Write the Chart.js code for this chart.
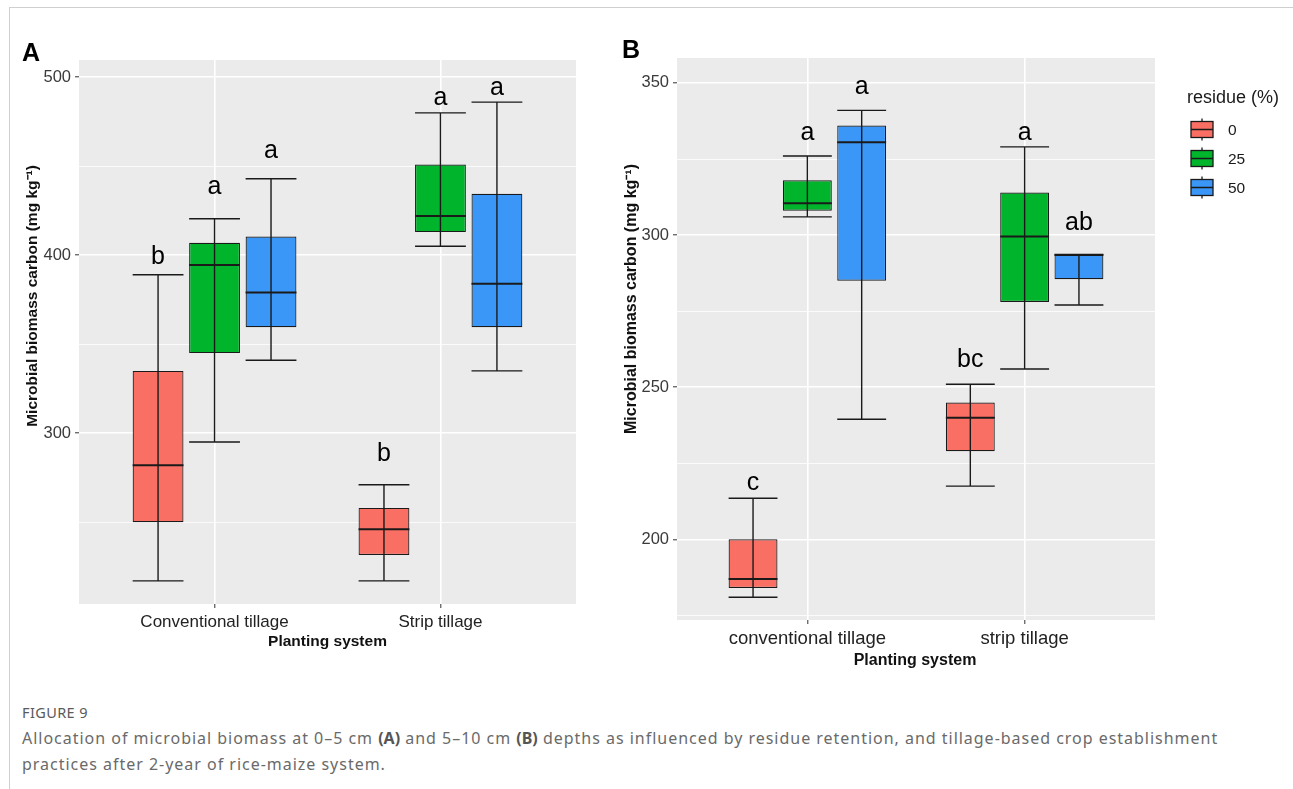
<!DOCTYPE html>
<html>
<head>
<meta charset="utf-8">
<script src="https://cdn.jsdelivr.net/npm/chart.js@4.4.0/dist/chart.umd.min.js"></script>
<style>
  body { margin: 0; background: #fff; width: 1293px; height: 789px; position: relative; overflow: hidden; font-family: "Liberation Sans", Arial, sans-serif; }
  #frame { position: absolute; left: 9px; top: 7px; right: 0; bottom: 0; border-left: 1px solid #cfcfcf; border-top: 1px solid #cfcfcf; }
  #cA { position: absolute; left: 0; top: 0; }
  #cB { position: absolute; left: 610px; top: 0; }
  .panel { position: absolute; font-weight: bold; font-size: 25px; color: #000; line-height: 1; }
  #fig { position: absolute; left: 22px; top: 702px; font-family: "Noto Sans", sans-serif; font-size: 14.5px; letter-spacing: 0.4px; color: #5a5a5a; }
  #cap { position: absolute; left: 22px; top: 725px; width: 1265px; white-space: nowrap; font-family: "Noto Sans", sans-serif; font-size: 16px; letter-spacing: 0.98px; line-height: 26px; color: #6a6a6a; }
  #cap b { color: #555; letter-spacing: 0; }
</style>
</head>
<body>
<div id="frame"></div>
<canvas id="cA" width="610" height="690"></canvas>
<canvas id="cB" width="683" height="690"></canvas>
<div class="panel" style="left:22px;top:40px">A</div>
<div class="panel" style="left:622px;top:37px">B</div>
<div id="fig">FIGURE 9</div>
<div id="cap">Allocation of microbial biomass at 0–5 cm <b>(A)</b> and 5–10 cm <b>(B)</b> depths as influenced by residue retention, and tillage-based crop establishment<br>practices after 2-year of rice-maize system.</div>

<script>
// Data
const categoriesA = ['Conventional tillage', 'Strip tillage'];
const categoriesB = ['conventional tillage', 'strip tillage'];
const residues = ['0', '25', '50'];
const colors = ['#FA6F64', '#00B42C', '#3A97F8'];

// five-number summaries [min, q1, median, q3, max], one per planting system
const a0 = [[217, 250, 282, 335, 389], [217, 231.5, 246, 258, 271]];
const a25 = [[295, 345, 394.5, 407, 420.5], [405, 413, 422, 451, 480]];
const a50 = [[341, 359.5, 379, 410.5, 443], [335, 359.5, 384, 434.5, 486]];
const b0 = [[181, 184, 187, 200, 213.5], [217.5, 229, 240, 245, 251]];
const b25 = [[306, 308, 310.5, 318, 326], [256, 278, 299.5, 314, 329]];
const b50 = [[239.5, 285, 330.5, 336, 341], [277, 285.5, 293.5, 293.5, 293.5]];

// significance letters (per residue, per planting system) and their heights
const aLetters = [['b', 'b'], ['a', 'a'], ['a', 'a']];
const aLetterY = [[399, 288], [438, 488.5], [458.5, 494]];
const bLetters = [['c', 'bc'], ['a', 'a'], ['a', 'ab']];
const bLetterY = [[218.5, 259], [333.5, 333.5], [348.5, 304]];

// y ticks (labelled every other one, the rest are minor grid lines)
const aTicks = [250, 300, 350, 400, 450, 500];
const bTicks = [175, 200, 225, 250, 275, 300, 325, 350];

const FONT = '"Liberation Sans", Arial, sans-serif';

const boxPlugin = {
  id: 'boxes',
  beforeDraw(chart) {
    const {ctx, chartArea: a} = chart;
    ctx.save();
    ctx.fillStyle = '#EBEBEB';
    ctx.fillRect(a.left, a.top, a.right - a.left, a.bottom - a.top);
    ctx.restore();
  },
  afterDatasetsDraw(chart, args, o) {
    const ctx = chart.ctx;
    const y = chart.scales.y;
    chart.data.datasets.forEach((ds, di) => {
      chart.getDatasetMeta(di).data.forEach((bar, i) => {
        const s = ds.stats[i];
        const half = bar.width / 2;
        ctx.save();
        ctx.strokeStyle = '#1a1a1a';
        ctx.lineWidth = 1.4;
        ctx.beginPath();
        ctx.moveTo(bar.x, y.getPixelForValue(s[0]));
        ctx.lineTo(bar.x, y.getPixelForValue(s[4]));
        [s[0], s[4]].forEach(v => {
          const py = y.getPixelForValue(v);
          ctx.moveTo(bar.x - half, py);
          ctx.lineTo(bar.x + half, py);
        });
        ctx.stroke();
        ctx.lineWidth = 2;
        ctx.beginPath();
        const pm = y.getPixelForValue(s[2]);
        ctx.moveTo(bar.x - half, pm);
        ctx.lineTo(bar.x + half, pm);
        ctx.stroke();
        ctx.fillStyle = '#000';
        ctx.font = '25px ' + FONT;
        ctx.textAlign = 'center';
        ctx.textBaseline = 'middle';
        ctx.fillText(ds.letters[i], bar.x, y.getPixelForValue(ds.letterY[i]));
        ctx.restore();
      });
    });
  },
  afterDraw(chart, args, o) {
    const ctx = chart.ctx;
    ctx.save();
    ctx.fillStyle = '#111';
    ctx.font = 'bold ' + o.titleSize + 'px ' + FONT;
    ctx.textAlign = 'center';
    ctx.textBaseline = 'middle';
    ctx.fillText('Planting system', o.xTitle[0], o.xTitle[1]);
    ctx.translate(o.yTitle[0], o.yTitle[1]);
    ctx.rotate(-Math.PI / 2);
    ctx.fillText('Microbial biomass carbon (mg kg\u207B\u00B9)', 0, 0);
    ctx.restore();
    if (!o.legend) return;
    const [lx, ly] = o.legend;
    ctx.save();
    ctx.fillStyle = '#1a1a1a';
    ctx.font = '18px ' + FONT;
    ctx.textBaseline = 'middle';
    ctx.fillText('residue (%)', lx - 3, ly);
    chart.data.datasets.forEach((ds, i) => {
      const cy = ly + 31.5 + i * 29;
      ctx.fillStyle = ds.backgroundColor;
      ctx.fillRect(lx + 1, cy - 8, 22, 16);
      ctx.strokeStyle = '#1a1a1a';
      ctx.lineWidth = 1.3;
      ctx.strokeRect(lx + 1, cy - 8, 22, 16);
      ctx.beginPath();
      ctx.moveTo(lx + 1, cy); ctx.lineTo(lx + 23, cy);
      ctx.moveTo(lx + 12, cy - 8); ctx.lineTo(lx + 12, cy - 11);
      ctx.moveTo(lx + 12, cy + 8); ctx.lineTo(lx + 12, cy + 11);
      ctx.stroke();
      ctx.fillStyle = '#1a1a1a';
      ctx.font = '15.5px ' + FONT;
      ctx.fillText(ds.label, lx + 38, cy + 1);
    });
    ctx.restore();
  }
};

function makePanel(id, cats, sets, letters, letterY, yMin, yMax, ticks, majorStep, tickSize, pad, extra) {
  const datasets = sets.map((set, r) => ({
    label: residues[r],
    data: cats.map((c, i) => ({x: i + 1, y: [set[i][1], set[i][3]]})),
    backgroundColor: colors[r],
    borderColor: '#1a1a1a',
    borderWidth: 1.2,
    borderSkipped: false,
    stats: set,
    letters: letters[r],
    letterY: letterY[r]
  }));
  const isMajor = v => v % majorStep === 0;
  return new Chart(document.getElementById(id), {
    type: 'bar',
    data: {datasets},
    plugins: [boxPlugin],
    options: {
      responsive: false,
      animation: false,
      devicePixelRatio: 1,
      categoryPercentage: 0.75,
      barPercentage: 0.9,
      layout: {padding: pad},
      plugins: {legend: {display: false}, tooltip: {enabled: false}, boxes: extra},
      scales: {
        x: {
          type: 'linear',
          min: 0.4,
          max: 2.6,
          offset: false,
          afterBuildTicks: s => { s.ticks = cats.map((c, i) => ({value: i + 1})); },
          afterFit: s => { s.height = 40; },
          border: {display: false},
          grid: {offset: false, color: '#ffffff', lineWidth: 1.6, tickColor: '#333', tickLength: 4, tickWidth: 1},
          ticks: {
            callback: v => cats[v - 1],
            color: '#222',
            font: {family: FONT, size: tickSize},
            padding: 4,
            maxRotation: 0
          }
        },
        y: {
          min: yMin,
          max: yMax,
          afterBuildTicks: s => { s.ticks = ticks.map(v => ({value: v})); },
          afterFit: s => { s.width = 45; },
          border: {display: false},
          grid: {
            color: '#ffffff',
            lineWidth: c => isMajor(c.tick.value) ? 1.6 : 0.8,
            tickColor: c => isMajor(c.tick.value) ? '#333' : 'rgba(0,0,0,0)',
            tickLength: 4,
            tickWidth: 1
          },
          ticks: {
            callback: v => isMajor(v) ? String(v) : '',
            color: '#3a3a3a',
            font: {family: FONT, size: 16.5},
            padding: 4
          }
        }
      }
    }
  });
}

makePanel('cA', categoriesA, [a0, a25, a50], aLetters, aLetterY, 204, 509.7, aTicks, 100, 17,
  {left: 34, right: 34, top: 60, bottom: 46},
  {xTitle: [327.5, 642], yTitle: [33, 296], titleSize: 15.5});

makePanel('cB', categoriesB, [b0, b25, b50], bLetters, bLetterY, 173.5, 358.2, bTicks, 50, 18.5,
  {left: 22, right: 138, top: 58, bottom: 30},
  {xTitle: [305, 661], yTitle: [22, 299], titleSize: 16, legend: [580, 98]});
</script>
</body>
</html>
